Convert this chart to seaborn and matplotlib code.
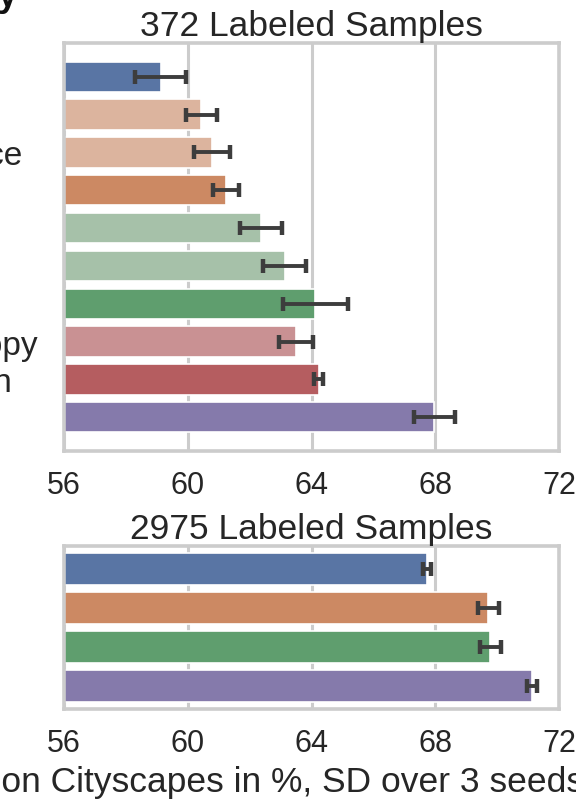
import numpy as np
import pandas as pd
import seaborn as sns
import matplotlib.pyplot as plt

# 372 labeled samples (top panel)
methods_372 = ["Supervised Baseline",
               "+ Consistency (Weak)",
               "+ Teacher w/ Confidence",
               "+ Consistency (Full)",
               "+ Hard Pseudo-Labels",
               "+ Soft Pseudo-Labels",
               "+ Both Pseudo-Labels",
               "+ Max. Prediction Entropy",
               "+ Entropy Normalization",
               "Combined (Ours)"]
miou_372 = [59.12, 60.44, 60.77, 61.24, 62.37, 63.13, 64.12, 63.50, 64.23, 67.97]
sd_372 = [0.82, 0.50, 0.58, 0.43, 0.68, 0.70, 1.05, 0.55, 0.14, 0.67]
colors_372 = ["#5975a4", "#dcb49e", "#dcb49e", "#cc8963", "#a6c1a9",
              "#a6c1a9", "#5f9e6e", "#c99193", "#b55d60", "#857aab"]

# 2975 labeled samples (bottom panel)
methods_2975 = ["Supervised Baseline",
                "+ Consistency (Full)",
                "+ Both Pseudo-Labels",
                "Combined (Ours)"]
miou_2975 = [67.74, 69.72, 69.78, 71.13]
sd_2975 = [0.13, 0.33, 0.33, 0.16]
colors_2975 = ["#5975a4", "#cc8963", "#5f9e6e", "#857aab"]

xticks = [56, 60, 64, 68, 72]

sns.set_theme(style="whitegrid")
plt.rcParams['font.family'] = ['Liberation Sans', 'DejaVu Sans']
plt.rcParams['text.color'] = '#262626'

fig = plt.figure(figsize=(5.76, 8.03), dpi=100)
W, H = 576, 803
ax1 = fig.add_axes([64 / W, 1 - 452 / H, 495 / W, 408 / H])
ax2 = fig.add_axes([64 / W, 1 - 710 / H, 495 / W, 163 / H])


def panel(ax, names, means, sds, colors, title):
    df = pd.DataFrame({"method": names, "miou": means})
    sns.barplot(data=df, x="miou", y="method", hue="method", palette=colors,
                saturation=1, legend=False, width=0.8, edgecolor="white",
                linewidth=1.2, errorbar=None, ax=ax)
    ax.errorbar(means, np.arange(len(means)), xerr=sds, fmt="none",
                ecolor="#3d3d3d", elinewidth=2.8, capsize=4.8, capthick=3.2,
                zorder=5)
    ax.set_xlim(56, 72)
    ax.set_xticks(xticks)
    ax.set_xlabel("")
    ax.set_ylabel("")
    ax.grid(axis="x", color="#cccccc", linewidth=2.2)
    ax.grid(axis="y", visible=False)
    ax.set_axisbelow(True)
    for s in ax.spines.values():
        s.set_color("#cccccc")
        s.set_linewidth(2.6)
    ax.tick_params(axis="x", labelsize=22, length=0, pad=14, labelcolor="#262626")
    ax.tick_params(axis="y", labelsize=24, length=0, labelcolor="#262626")
    for lab in ax.get_yticklabels():
        lab.set_horizontalalignment("left")
    ax.set_title(title, fontsize=25.5, pad=6, color="#262626")


panel(ax1, methods_372, miou_372, sd_372, colors_372, "372 Labeled Samples")
panel(ax2, methods_2975, miou_2975, sd_2975, colors_2975, "2975 Labeled Samples")

ax2.set_xlabel("Mean IoU on Cityscapes in %, SD over 3 seeds", fontsize=25.5,
               ha="right", color="#262626")
ax2.xaxis.set_label_coords((584 - 64) / 495, (710 - 766) / 163)

fig.text(18 / W, 1 - 6 / H, "Label Efficiency", ha="right", va="baseline",
         fontsize=26, fontweight="bold", color="#111111")

# left-aligned labels start far left of the axes; shift so they end where
# the reference crop shows them
fig.canvas.draw()
renderer = fig.canvas.get_renderer()
w8 = ax1.get_yticklabels()[7].get_window_extent(renderer).width
pad_px = 64 + w8 - 38
for ax in (ax1, ax2):
    ax.tick_params(axis="y", pad=pad_px * 72 / 100)

fig.savefig("out.png", dpi=100)
